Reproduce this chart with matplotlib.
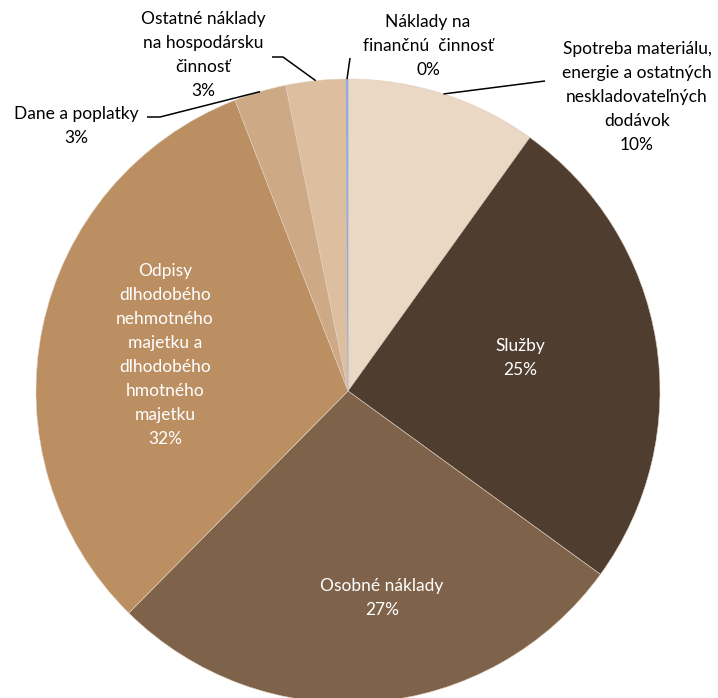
import matplotlib
matplotlib.use("Agg")
import matplotlib.pyplot as plt
import numpy as np

plt.rcParams['font.family'] = ['Lato', 'DejaVu Sans']

categories = [
    "Spotreba materiálu,\nenergie a ostatných\nneskladovateľných\ndodávok",
    "Služby",
    "Osobné náklady",
    "Odpisy\ndlhodobého\nnehmotného\nmajetku a\ndlhodobého\nhmotného\nmajetku",
    "Dane a poplatky",
    "Ostatné náklady\nna hospodársku\nčinnosť",
    "Náklady na\nfinančnú  činnosť",
]
values = [9.9, 25.1, 27.4, 31.7, 2.7, 3.1, 0.1]
colors = ["#EBD8C4", "#4F3E2F", "#7E634A", "#BC8F63", "#CDA985", "#DDBF9F", "#8FAADC"]

W, H = 718, 698
fig = plt.figure(figsize=(W / 100, H / 100), dpi=100)
ax = fig.add_axes([0, 0, 1, 1])
cx, cy, R = 348, 307, 312

wedges, _ = ax.pie(values, colors=colors, startangle=90, counterclock=False,
                   center=(cx, cy), radius=R,
                   wedgeprops=dict(linewidth=0.4, edgecolor="#E0D0C0"))
wedges[-1].set_edgecolor(colors[-1])
ax.set_xlim(0, W)
ax.set_ylim(0, H)
ax.set_aspect('equal')
ax.axis('off')

total = sum(values)
pct = [f"{round(v / total * 100):.0f}%" for v in values]

layout = {
    0: dict(xy=(637, 97), color="black", leader=[(545, 81)]),
    1: dict(xy=(520, 358), color="white", leader=None),
    2: dict(xy=(382, 598), color="white", leader=None),
    3: dict(xy=(165, 355), color="white", leader=None),
    4: dict(xy=(76, 126), color="black", leader=[(160, 117), (147, 117)]),
    5: dict(xy=(203, 55), color="black", leader=[(283, 57), (272, 57)]),
    6: dict(xy=(428, 46), color="black", leader=[(350, 58)]),
}

cum = 0.0
for i, v in enumerate(values):
    mid = cum + v / 2
    cum += v
    ang = np.deg2rad(90 - mid / total * 360)
    lx, ly = layout[i]["xy"]
    ax.text(lx, H - ly, categories[i] + "\n" + pct[i], ha="center", va="center",
            color=layout[i]["color"], fontsize=12.5, linespacing=1.62)
    if layout[i]["leader"]:
        px = cx + R * np.cos(ang)
        py = cy + R * np.sin(ang)
        xs = [px] + [p[0] for p in layout[i]["leader"]]
        ys = [py] + [H - p[1] for p in layout[i]["leader"]]
        ax.plot(xs, ys, color="black", lw=1.1, solid_capstyle="butt")

fig.savefig("out.png", dpi=100, facecolor="white")
